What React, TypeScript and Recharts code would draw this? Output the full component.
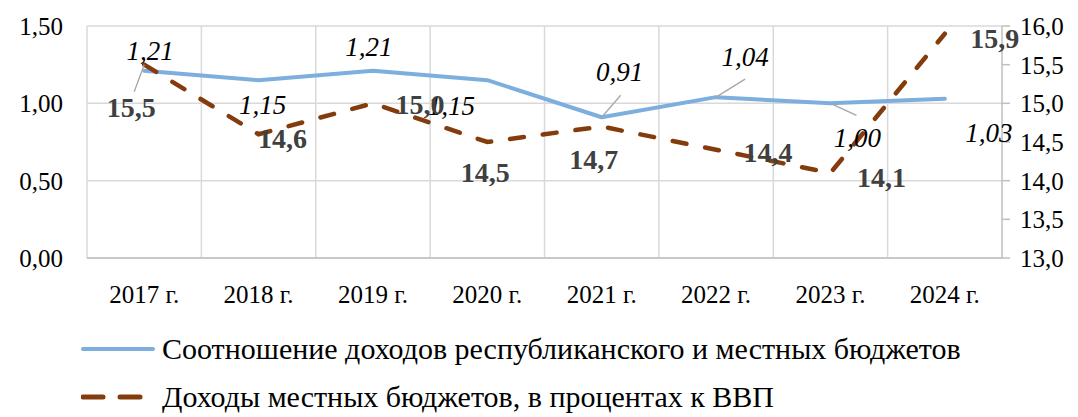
import {
  LineChart,
  Line,
  XAxis,
  YAxis,
  CartesianGrid,
  Legend,
  LabelList,
} from "recharts";

const years = ["2017 г.", "2018 г.", "2019 г.", "2020 г.", "2021 г.", "2022 г.", "2023 г.", "2024 г."];
const ratio = [1.21, 1.15, 1.21, 1.15, 0.91, 1.04, 1.0, 1.03];
const localShare = [15.5, 14.6, 15.0, 14.5, 14.7, 14.4, 14.1, 15.9];
const leftTicks = [0, 0.5, 1, 1.5];
const rightTicks = [13, 13.5, 14, 14.5, 15, 15.5, 16];

const ratioName = "Соотношение доходов республиканского и местных бюджетов";
const shareName = "Доходы местных бюджетов, в процентах к ВВП";

const BLUE = "#7cafdd";
const BROWN = "#843c0c";
const FONT = "Liberation Serif";

// label placement relative to the point: [dx, dy, leaderX, leaderY]
const blueLabelPos: number[][] = [
  [6, -20],
  [4, 25],
  [-4, -24],
  [-36, 26],
  [18, -45, 19, -22],
  [29, -40, 29, -18],
  [27, 35, 26, 12],
  [44, 34],
];
const brownLabelPos: number[][] = [
  [-13, 43, -10, 27],
  [24, 4],
  [47, 1],
  [-2, 30],
  [-8, 33],
  [52, 3],
  [51, 5],
  [50, 5],
];

const data = years.map((year, i) => ({
  year,
  ratio: ratio[i],
  share: localShare[i],
}));

const fmt = (v: number, d: number) => v.toFixed(d).replace(".", ",");

function makeLabel(pos: number[][], digits: number, style: any) {
  return (props: any) => {
    const x = props.x ?? props.viewBox?.x;
    const y = props.y ?? props.viewBox?.y;
    const p = pos[props.index] || [0, 0];
    return (
      <g>
        {p.length > 2 && (
          <line x1={x} y1={y} x2={x + p[2]} y2={y + p[3]} stroke="#a6a6a6" strokeWidth={1.3} />
        )}
        <text
          x={x + p[0]}
          y={y + p[1]}
          textAnchor="middle"
          dominantBaseline="central"
          fontFamily={FONT}
          {...style}
        >
          {fmt(Number(props.value), digits)}
        </text>
      </g>
    );
  };
}

const blueLabel = makeLabel(blueLabelPos, 2, { fontSize: 27, fontStyle: "italic", fill: "#000" });
const brownLabel = makeLabel(brownLabelPos, 1, { fontSize: 28, fontWeight: "bold", fill: "#404040" });

function LegendBox() {
  return (
    <div style={{ height: 104, paddingTop: 12, boxSizing: "border-box", fontFamily: FONT }}>
      <div style={{ display: "flex", alignItems: "center", height: 48 }}>
        <svg width={81} height={10}>
          <line x1={2} y1={5} x2={72} y2={5} stroke={BLUE} strokeWidth={4} strokeLinecap="round" />
        </svg>
        <span style={{ fontSize: 30, lineHeight: 1, color: "#000", whiteSpace: "nowrap" }}>{ratioName}</span>
      </div>
      <div style={{ display: "flex", alignItems: "center", height: 48 }}>
        <svg width={81} height={10}>
          <line x1={2} y1={5} x2={22} y2={5} stroke={BROWN} strokeWidth={5} strokeLinecap="round" />
          <line x1={39} y1={5} x2={59} y2={5} stroke={BROWN} strokeWidth={5} strokeLinecap="round" />
        </svg>
        <span style={{ fontSize: 30, lineHeight: 1, color: "#000", whiteSpace: "nowrap" }}>{shareName}</span>
      </div>
    </div>
  );
}

const tickStyle = { fontSize: 25, fontFamily: FONT, fill: "#000" };

export default function App() {
  return (
    <LineChart
      width={1062}
      height={409}
      data={data}
      margin={{ top: 18, right: 0, left: 0, bottom: 0 }}
    >
      <CartesianGrid
        yAxisId="left"
        stroke="#d9d9d9"
        strokeWidth={1.5}
        verticalCoordinatesGenerator={({ offset }: any) =>
          years.map((_, i) => offset.left + (i * offset.width) / years.length)
        }
      />
      <XAxis
        dataKey="year"
        scale="band"
        tickLine={false}
        tickSize={0}
        tickMargin={27}
        height={55}
        axisLine={{ stroke: "#bfbfbf", strokeWidth: 1.5 }}
        tick={tickStyle}
      />
      <YAxis
        yAxisId="left"
        width={79}
        domain={[0, 1.5]}
        ticks={leftTicks}
        axisLine={false}
        tickLine={false}
        tickSize={0}
        tickMargin={24}
        tickFormatter={(v: number) => fmt(v, 2)}
        tick={tickStyle}
      />
      <YAxis
        yAxisId="right"
        orientation="right"
        width={68}
        domain={[13, 16]}
        ticks={rightTicks}
        axisLine={{ stroke: "#bfbfbf", strokeWidth: 1.5 }}
        tickLine={{ stroke: "#bfbfbf", strokeWidth: 1.5 }}
        tickSize={8}
        tickMargin={10}
        tickFormatter={(v: number) => fmt(v, 1)}
        tick={tickStyle}
      />
      <Legend
        verticalAlign="bottom"
        content={() => <LegendBox />}
        wrapperStyle={{ left: 73, width: 985 }}
      />
      <Line
        yAxisId="left"
        dataKey="ratio"
        name={ratioName}
        stroke={BLUE}
        strokeWidth={4}
        strokeLinecap="round"
        strokeLinejoin="round"
        dot={false}
        activeDot={false}
        isAnimationActive={false}
      >
        <LabelList dataKey="ratio" content={blueLabel} />
      </Line>
      <Line
        yAxisId="right"
        dataKey="share"
        name={shareName}
        stroke={BROWN}
        strokeWidth={4.5}
        strokeDasharray="14 19"
        strokeLinecap="round"
        dot={false}
        activeDot={false}
        isAnimationActive={false}
      >
        <LabelList dataKey="share" content={brownLabel} />
      </Line>
    </LineChart>
  );
}
